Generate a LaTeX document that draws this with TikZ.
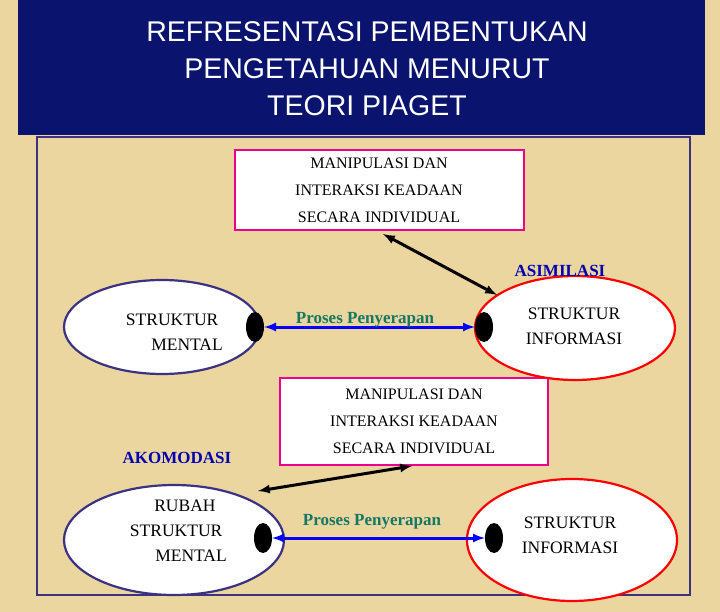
\documentclass[tikz,border=0pt]{standalone}
\usepackage{fontspec}
\setmainfont{Liberation Serif}
\newfontfamily\titlefont{Liberation Sans}
\usetikzlibrary{shapes.geometric}
\definecolor{bgtan}{RGB}{236,214,160}
\definecolor{navy}{RGB}{10,20,110}
\definecolor{frameblue}{RGB}{60,50,130}
\definecolor{teal}{RGB}{20,120,100}
\tikzset{
  infobox/.style={draw=magenta, line width=2pt, fill=white, align=center, font=\fontsize{16}{27}\selectfont},
  mental/.style={ellipse, draw=frameblue, line width=2.2pt, fill=white},
  informasi/.style={ellipse, draw=red, line width=2.2pt, fill=white},
  dot/.style={ellipse, fill=black, minimum width=18pt, minimum height=30pt, inner sep=0pt},
  label/.style={font=\bfseries\fontsize{17}{20}\selectfont},
  body/.style={font=\fontsize{17.5}{25}\selectfont, align=center}
}
\begin{document}
\begin{tikzpicture}[x=1pt,y=-1pt]
    \fill[bgtan] (0,0) rectangle (720,612);
    \useasboundingbox (0,0) rectangle (720,612);
    \fill[navy] (18,0) rectangle (705,135);
    \node[text=white, align=center, font=\titlefont\fontsize{28.5}{37}\selectfont] (title) at (367,69) {REFRESENTASI PEMBENTUKAN\\PENGETAHUAN MENURUT\\TEORI PIAGET};
    \draw[frameblue, line width=2pt] (37,137) rectangle (690,595);
    % boxes
    \node[infobox, minimum width=289pt, minimum height=80pt] (box1) at (379,190) {MANIPULASI DAN\\INTERAKSI KEADAAN\\SECARA INDIVIDUAL};
    \node[infobox, minimum width=268pt, minimum height=87pt] (box2) at (414,421) {MANIPULASI DAN\\INTERAKSI KEADAAN\\SECARA INDIVIDUAL};
    % ellipses
    \node[mental, minimum width=196pt, minimum height=94pt] (mental1) at (162,327) {};
    \node[body, anchor=north west] at (118,310) {STRUKTUR\\\hspace*{1.7em}MENTAL};
    \node[informasi, minimum width=200pt, minimum height=104pt] (info1) at (575,328) {};
    \node[body] at (574,326) {STRUKTUR\\INFORMASI};
    \node[mental, minimum width=220pt, minimum height=110pt] (mental2) at (174,540) {};
    \node[body, anchor=north west] at (122,496) {\hspace*{1em}RUBAH\\STRUKTUR\\\hspace*{1.7em}MENTAL};
    \node[informasi, minimum width=210pt, minimum height=122pt] (info2) at (572,540) {};
    \node[body] at (570,535) {STRUKTUR\\INFORMASI};
    % dots
    \node[dot] (d1) at (255,327) {};
    \node[dot] (d2) at (484,327) {};
    \node[dot] (d3) at (263,538) {};
    \node[dot] (d4) at (494,538) {};
    \draw[blue, line width=3pt, <->, >=latex] (d1.east) -- (d2.west);
    \draw[blue, line width=3pt, <->, >=latex] (d3.east) -- (d4.west);
    \node[label, text=teal] (proses1) at (365,320) {Proses Penyerapan};
    \node[label, text=teal] (proses2) at (372,522) {Proses Penyerapan};
    % interaction arrows
    \coordinate (a1) at (383,234);
    \coordinate (a2) at (497,295);
    \coordinate (b1) at (412,466);
    \coordinate (b2) at (258,491);
    \draw[black, line width=3pt, <->, >=latex] (a1) -- (a2);
    \draw[black, line width=3pt, <->, >=latex] (b1) -- (b2);
    \node[label, text=blue!70!black] (asimilasi) at (560,271) {ASIMILASI};
    \node[label, text=blue!70!black] (akomodasi) at (177,458) {AKOMODASI};
\end{tikzpicture}
\end{document}
